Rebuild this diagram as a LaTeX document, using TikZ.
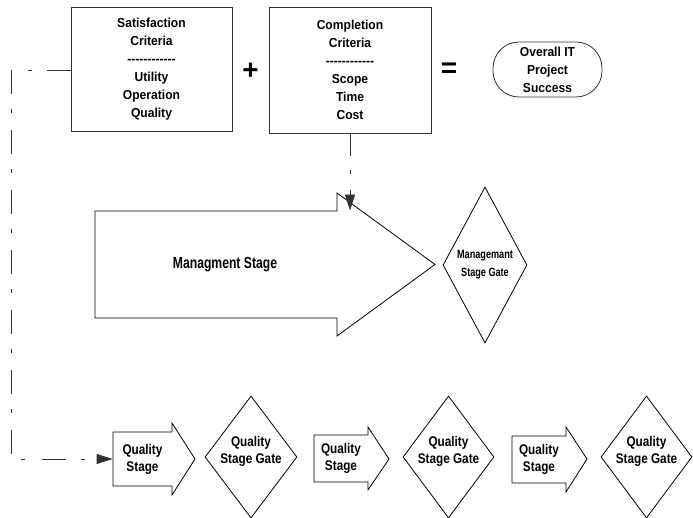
\documentclass[tikz,border=0pt]{standalone}
\usepackage{fontspec}
\setmainfont{Liberation Sans}
\newfontfamily\fboxf{Liberation Sans}[FakeStretch=0.93]
\newfontfamily\fqf{Liberation Sans}[FakeStretch=0.84]
\newfontfamily\fmf{Liberation Sans}[FakeStretch=0.76]
\usetikzlibrary{arrows.meta,shapes.geometric}
\begin{document}
\begin{tikzpicture}[x=1pt,y=-1pt,line width=0.8pt,
  crit/.style={draw=black!80, inner sep=0pt, align=center,
    font=\fboxf\bfseries\fontsize{13pt}{18pt}\selectfont},
  shp/.style={draw=black, line width=0.8pt},
  body/.style={inner sep=0pt, align=center},
  qtext/.style={align=center, inner sep=0pt, font=\fqf\bfseries\fontsize{14pt}{17pt}\selectfont},
  gate/.style={diamond, draw=black, inner sep=0pt, aspect=1},
  sym/.style={inner sep=0pt, font=\bfseries\fontsize{28pt}{28pt}\selectfont},
  conn/.style={draw=black!80, line width=0.8pt, dash pattern=on 24pt off 15pt on 4pt off 17pt,
    -{Triangle[length=16pt,width=10pt]}}
]
\useasboundingbox (0,0) rectangle (693,518);

% top row
\node[crit, minimum width=161pt, minimum height=124pt] (b1) at (151.5,69)
  {Satisfaction\\Criteria\\------------\\Utility\\Operation\\Quality};
\node[crit, minimum width=162pt, minimum height=126pt] (b2) at (350,70)
  {Completion\\Criteria\\------------\\Scope\\Time\\Cost};
\node[sym] (plus) at (250.5,71) {+};
\node[sym] (eq) at (449,70.5) {=};
\node[crit, rounded corners=26pt, minimum width=109pt, minimum height=55pt] (ov) at (547.5,69.5)
  {Overall IT\\Project\\Success};

% management stage
\draw[shp] (95,211) -- (337,211) -- (337,193) -- (435,264.5) -- (337,336) -- (337,318) -- (95,318) -- cycle;
\node[body, minimum width=242pt, minimum height=107pt] (ms) at (216,264.5) {};
\node[inner sep=0pt, font=\fmf\bfseries\fontsize{16pt}{18pt}\selectfont] (mstext) at (225,265) {Managment Stage};
\node[gate, minimum width=84pt, minimum height=156pt] (mg) at (485,265) {};
\node[align=center, inner sep=0pt, font=\fmf\bfseries\fontsize{12pt}{18pt}\selectfont] (mgtext) at (485,265) {Managemant\\Stage Gate};

% quality row
\draw[shp] (113,432) -- (172,432) -- (172,423) -- (195,459) -- (172,495) -- (172,486) -- (113,486) -- cycle;
\node[qtext, minimum width=59pt, minimum height=54pt] (qs1) at (142.5,459) {Quality\\Stage};
\node[gate, minimum width=92pt, minimum height=122pt] (qg1) at (251,457) {};
\node[qtext] (qg1t) at (251,451) {Quality\\Stage Gate};

\draw[shp] (314,435) -- (368,435) -- (368,427) -- (389,459) -- (368,490) -- (368,482) -- (314,482) -- cycle;
\node[qtext, minimum width=54pt, minimum height=47pt] (qs2) at (341,458.5) {Quality\\Stage};
\node[gate, minimum width=91pt, minimum height=122pt] (qg2) at (448.5,457) {};
\node[qtext] (qg2t) at (448.5,451) {Quality\\Stage Gate};

\draw[shp] (512,436) -- (566,436) -- (566,427) -- (587,459) -- (566,492) -- (566,483) -- (512,483) -- cycle;
\node[qtext, minimum width=54pt, minimum height=47pt] (qs3) at (539,459.5) {Quality\\Stage};
\node[gate, minimum width=91pt, minimum height=122pt] (qg3) at (646.5,457) {};
\node[qtext] (qg3t) at (646.5,451) {Quality\\Stage Gate};

% connectors
\coordinate (bend1) at (11,70);
\coordinate (bend2) at (11,459);
\draw[conn] (b1.west |- 0,70) -- (bend1) -- (bend2) -- (qs1.west);
\draw[conn, dash pattern=on 23pt off 14pt on 4pt off 16pt] (b2.south) -- (b2.south |- ms.north);
\end{tikzpicture}
\end{document}
